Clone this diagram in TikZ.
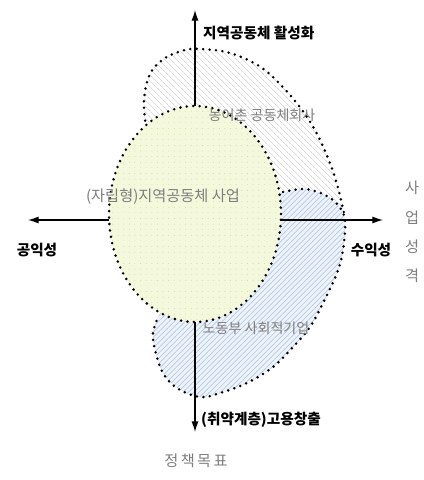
\documentclass[tikz,border=0pt]{standalone}
\usepackage{fontspec}
\setmainfont{Noto Sans CJK KR}
\usetikzlibrary{arrows.meta, positioning, shapes.geometric}
\usetikzlibrary{patterns.meta}
\usepackage{xcolor}

\definecolor{circfill}{HTML}{F4F8DC}
\definecolor{circline}{HTML}{C8DC8C}
\definecolor{bluefill}{HTML}{EEF3FA}
\definecolor{blueline}{HTML}{B4C8E4}
\definecolor{hatchgray}{HTML}{C4C4C4}
\definecolor{labelgray}{HTML}{7E7E7E}

\tikzset{
  dotline/.style={line width=2.4pt, dash pattern=on 0pt off 5.5pt, line cap=round},
  axis/.style={line width=1.1pt, -{Latex[length=9pt,width=6pt]}},
  axislabel/.style={font=\fontsize{12.5}{14}\selectfont\bfseries, inner sep=0pt},
  arealabel/.style={font=\fontsize{12}{14}\selectfont, text=labelgray, inner sep=0pt},
}

\newcommand{\toparc}{plot[smooth, tension=0.6] coordinates {(146,127) (144,100) (150,74) (165,58) (185,50) (200,49) (230,53) (262,68) (290,95) (312,125) (328,158) (338,188) (345,218)}}
\newcommand{\bluearc}{plot[smooth, tension=0.6] coordinates {(283,192) (305,189) (325,195) (338,205) (345,220) (343,250) (337,273) (323,303) (310,327) (293,347) (273,367) (247,383) (220,393) (200,397) (177,388) (163,373) (155,350) (153,333) (158,317)}}

\begin{document}
\begin{tikzpicture}[x=0.03cm, y=-0.03cm]
  \useasboundingbox (0,0) rectangle (424,480);

  % Areas behind the circle
  \fill[pattern={Lines[angle=-45, distance=4pt, line width=0.6pt]}, pattern color=hatchgray]
    \toparc -- (300,260) -- (200,250) -- cycle;
  \draw[dotline] \toparc;
  \fill[fill=bluefill, postaction={pattern={Lines[angle=45, distance=3.2pt, line width=0.6pt]}, pattern color=blueline}]
    \bluearc -- (200,250) -- cycle;
  \draw[dotline] \bluearc;

  % Circle
  \node[ellipse, draw, dotline, minimum width=5.16cm, minimum height=6.48cm, inner sep=0pt,
        preaction={fill=circfill}, pattern={Lines[angle=90, distance=4.8pt, line width=0.8pt]}, pattern color=circline]
    (jarip) at (195,214) {};

  % Axes
  \coordinate (top) at (195,10);
  \coordinate (bottom) at (195,432);
  \coordinate (left) at (28,220);
  \coordinate (right) at (383,220);
  \draw[axis] (jarip.north) -- (top);
  \draw[axis] (jarip.south) -- (bottom);
  \draw[axis] (left -| jarip.west) -- (left);
  \draw[axis] (right -| jarip.east) -- (right);

  % Axis labels
  \node[axislabel, anchor=west] (hwalseong) at (203,33) {지역공동체 활성화};
  \node[axislabel] (gongik) at (37,250) {공익성};
  \node[axislabel] (suik) at (371,250) {수익성};
  \node[axislabel, anchor=west] (goyong) at (201,420) {(취약계층)고용창출};

  % Area labels
  \node[arealabel, font=\fontsize{13}{14}\selectfont] (jaripname) at (163,197) {(자립형)지역공동체 사업};
  \node[arealabel] (nongeochon) at (262,115) {농어촌 공동체회사};
  \node[arealabel] (nodongbu) at (256,328) {노동부 사회적기업};

  % Titles
  \node[arealabel, font=\fontsize{13}{14}\selectfont] (jeongchaek) at (196,461) {정\hspace{2pt}책\hspace{2pt}목\hspace{2pt}표};
  \node[arealabel, align=center, font=\fontsize{13}{25}\selectfont] (seongkyeok) at (412,232) {사\\업\\성\\격};
\end{tikzpicture}
\end{document}
